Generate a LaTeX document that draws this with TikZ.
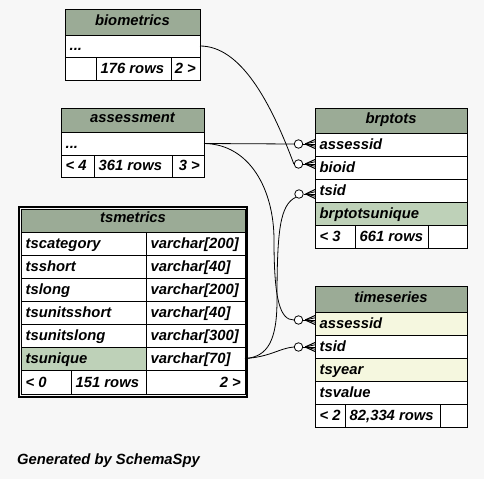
\documentclass[tikz,border=0pt]{standalone}
\usepackage{fontspec}
\setmainfont{Liberation Sans}
\usetikzlibrary{positioning,calc}
\definecolor{hdrgreen}{HTML}{9BAB96}
\definecolor{keygreen}{HTML}{BED1B8}
\definecolor{idxyellow}{HTML}{F5F7DF}
\definecolor{pagebg}{HTML}{F7F7F7}
\tikzset{cellbox/.style={draw,rectangle,fill=white,line width=0.9pt,inner sep=0pt,outer sep=0pt}  }
\tikzset{hdr/.style={cellbox,fill=hdrgreen}  }
\tikzset{pkey/.style={cellbox,fill=keygreen}  }
\tikzset{idx/.style={cellbox,fill=idxyellow}  }
\tikzset{tframe/.style={draw,rectangle,line width=2pt,inner sep=0pt,outer sep=0pt}  }
\tikzset{txt/.style={inner sep=0pt,font=\fontsize{14.8}{17}\selectfont\bfseries\itshape}  }
\tikzset{fkcirc/.style={draw,circle,fill=white,minimum size=8.5pt,inner sep=0pt,line width=0.8pt}  }
\tikzset{conn/.style={draw,line width=0.8pt}  }
% one table cell: style, name, x1, y1, x2, y2
\newcommand{\tbox}[6]{\node[#1,minimum width={(#5-#3)*1pt},minimum height={(#6-#4)*1pt}] (#2) at ({(#3+#5)/2},{(#4+#6)/2}) {};}
\newcommand{\ltxt}[2]{\node[txt,anchor=base west] (#1-t) at ($(#1.south west)+(4.5,-7)$) {#2};}
\newcommand{\rtxt}[2]{\node[txt,anchor=base east] (#1-t) at ($(#1.south east)+(-4,-7)$) {#2};}
\newcommand{\ctxt}[2]{\node[txt,anchor=base] (#1-t) at ($(#1.south)+(0,-9.5)$) {#2};}
% crow's foot from a circle to the table edge
\newcommand{\crow}[2]{\draw[conn] (#1.east) -- (#1.east -| #2.west);
	\draw[conn,line width=1pt] ($(#1.east)+(2,0)$) -- ($(#1.east -| #2.west)+(0,-4.5)$);
	\draw[conn,line width=1pt] ($(#1.east)+(2,0)$) -- ($(#1.east -| #2.west)+(0,4.5)$);
	\draw[conn] ($(#1.east)+(2,0)$) -- ($(#1.east -| #2.west)+(0,-2.2)$);
	\draw[conn] ($(#1.east)+(2,0)$) -- ($(#1.east -| #2.west)+(0,2.2)$);}
\begin{document}
\begin{tikzpicture}[x=1pt,y=-1pt]
	\fill[pagebg] (0,0) rectangle (484,479);
	\useasboundingbox (0,0) rectangle (484,479);

	% biometrics
	\tbox{hdr}{bio-h}{65}{9}{200}{35} \ctxt{bio-h}{biometrics}
	\tbox{cellbox}{bio-dots}{65}{35}{200}{57} \ltxt{bio-dots}{...}
	\tbox{cellbox}{bio-f1}{65}{57}{96}{80}
	\tbox{cellbox}{bio-f2}{96}{57}{171}{80} \ltxt{bio-f2}{176 rows}
	\tbox{cellbox}{bio-f3}{171}{57}{200}{80} \rtxt{bio-f3}{2 >}

	% assessment
	\tbox{hdr}{asm-h}{61}{108}{204}{132} \ctxt{asm-h}{assessment}
	\tbox{cellbox}{asm-dots}{61}{132}{204}{155} \ltxt{asm-dots}{...}
	\tbox{cellbox}{asm-f1}{61}{155}{94}{177} \ltxt{asm-f1}{< 4}
	\tbox{cellbox}{asm-f2}{94}{155}{172}{177} \ltxt{asm-f2}{361 rows}
	\tbox{cellbox}{asm-f3}{172}{155}{204}{177} \rtxt{asm-f3}{3 >}

	% brptots
	\tbox{hdr}{brp-h}{315}{108}{467}{133} \ctxt{brp-h}{brptots}
	\tbox{cellbox}{brp-assessid}{315}{133}{467}{156} \ltxt{brp-assessid}{assessid}
	\tbox{cellbox}{brp-bioid}{315}{156}{467}{179} \ltxt{brp-bioid}{bioid}
	\tbox{cellbox}{brp-tsid}{315}{179}{467}{202} \ltxt{brp-tsid}{tsid}
	\tbox{pkey}{brp-unique}{315}{202}{467}{225} \ltxt{brp-unique}{brptotsunique}
	\tbox{cellbox}{brp-f1}{315}{225}{355}{248} \ltxt{brp-f1}{< 3}
	\tbox{cellbox}{brp-f2}{355}{225}{428}{248} \ltxt{brp-f2}{661 rows}
	\tbox{cellbox}{brp-f3}{428}{225}{467}{248}

	% tsmetrics
	\tbox{tframe}{tsm-frame}{19}{207}{247}{396.5}
	\tbox{hdr}{tsm-h}{21}{209}{245}{232} \ctxt{tsm-h}{tsmetrics}
	\tbox{cellbox}{tsm-cat}{21}{232}{146}{255} \ltxt{tsm-cat}{tscategory}
	\tbox{cellbox}{tsm-cat-r}{146}{232}{245}{255} \ltxt{tsm-cat-r}{varchar[200]}
	\tbox{cellbox}{tsm-short}{21}{255}{146}{278} \ltxt{tsm-short}{tsshort}
	\tbox{cellbox}{tsm-short-r}{146}{255}{245}{278} \ltxt{tsm-short-r}{varchar[40]}
	\tbox{cellbox}{tsm-long}{21}{278}{146}{301} \ltxt{tsm-long}{tslong}
	\tbox{cellbox}{tsm-long-r}{146}{278}{245}{301} \ltxt{tsm-long-r}{varchar[200]}
	\tbox{cellbox}{tsm-ushort}{21}{301}{146}{324} \ltxt{tsm-ushort}{tsunitsshort}
	\tbox{cellbox}{tsm-ushort-r}{146}{301}{245}{324} \ltxt{tsm-ushort-r}{varchar[40]}
	\tbox{cellbox}{tsm-ulong}{21}{324}{146}{347} \ltxt{tsm-ulong}{tsunitslong}
	\tbox{cellbox}{tsm-ulong-r}{146}{324}{245}{347} \ltxt{tsm-ulong-r}{varchar[300]}
	\tbox{pkey}{tsm-unique}{21}{347}{146}{370} \ltxt{tsm-unique}{tsunique}
	\tbox{cellbox}{tsm-unique-r}{146}{347}{245}{370} \ltxt{tsm-unique-r}{varchar[70]}
	\tbox{cellbox}{tsm-f1}{21}{370}{71}{394} \ltxt{tsm-f1}{< 0}
	\tbox{cellbox}{tsm-f2}{71}{370}{146}{394} \ltxt{tsm-f2}{151 rows}
	\tbox{cellbox}{tsm-f3}{146}{370}{245}{394} \rtxt{tsm-f3}{2 >}

	% timeseries
	\tbox{hdr}{tms-h}{315}{286}{467}{312} \ctxt{tms-h}{timeseries}
	\tbox{idx}{tms-assessid}{315}{312}{467}{335} \ltxt{tms-assessid}{assessid}
	\tbox{cellbox}{tms-tsid}{315}{335}{467}{358} \ltxt{tms-tsid}{tsid}
	\tbox{idx}{tms-year}{315}{358}{467}{381} \ltxt{tms-year}{tsyear}
	\tbox{cellbox}{tms-value}{315}{381}{467}{404} \ltxt{tms-value}{tsvalue}
	\tbox{cellbox}{tms-f1}{315}{404}{345}{427} \ltxt{tms-f1}{< 2}
	\tbox{cellbox}{tms-f2}{345}{404}{440}{427} \ltxt{tms-f2}{82,334 rows}
	\tbox{cellbox}{tms-f3}{440}{404}{467}{427}

	% foreign key ends
	\node[fkcirc] (fk-b-assessid) at (298.5,144) {};
	\node[fkcirc] (fk-b-bioid) at (298.5,164) {};
	\node[fkcirc] (fk-b-tsid) at (299,194) {};
	\node[fkcirc] (fk-t-assessid) at (298.5,320) {};
	\node[fkcirc] (fk-t-tsid) at (298.5,347) {};

	\draw[conn] (bio-dots.east) .. controls (240,46) and (270,100) .. (fk-b-bioid.west);
	\draw[conn] (asm-dots.east) -- (fk-b-assessid.west);
	\draw[conn] (asm-dots.east) .. controls (250,144) and (274,190) .. (274,240)
		.. controls (274,300) and (280,320) .. (fk-t-assessid.west);
	\draw[conn] (tsm-unique-r.east) .. controls (268,357) and (277,340) .. (277,300)
		.. controls (277,230) and (280,205) .. (fk-b-tsid.south west);
	\draw[conn] (tsm-unique-r.east) .. controls (270,357) and (280,348) .. (fk-t-tsid.west);

	\crow{fk-b-assessid}{brp-assessid}
	\crow{fk-b-bioid}{brp-bioid}
	\crow{fk-b-tsid}{brp-tsid}
	\crow{fk-t-assessid}{tms-assessid}
	\crow{fk-t-tsid}{tms-tsid}

	\node[txt,anchor=base west] (credit) at (17,464) {Generated by SchemaSpy};
\end{tikzpicture}
\end{document}
